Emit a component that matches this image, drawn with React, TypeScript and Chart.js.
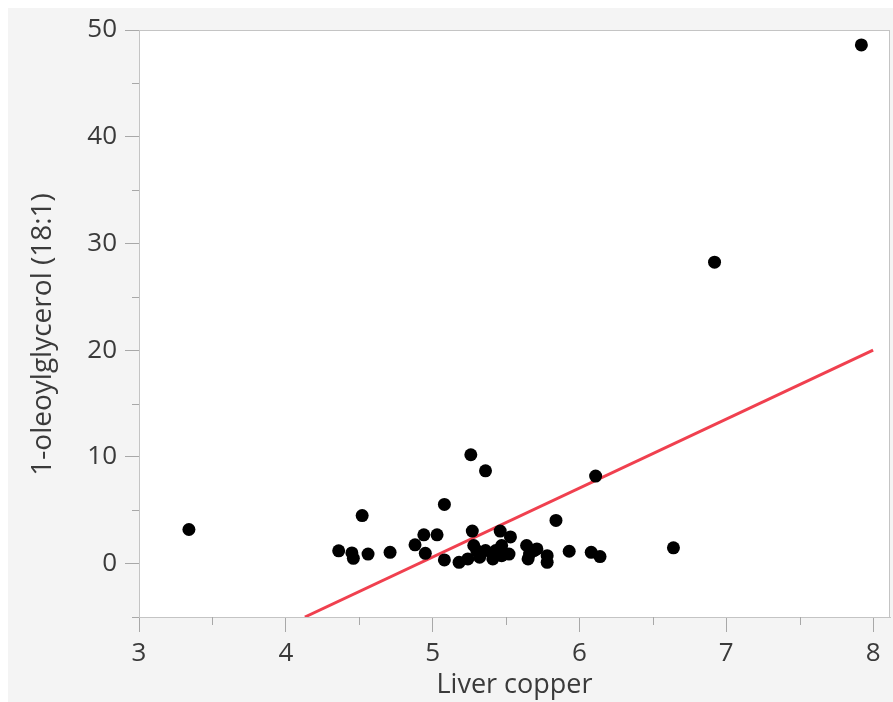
import React, { useEffect, useRef } from "react";
import { Chart, registerables } from "chart.js";

Chart.register(...registerables);

const copperX: number[] = [
  3.34, 4.36, 4.45, 4.46, 4.52, 4.56, 4.71, 4.88, 4.94, 4.95, 5.03, 5.08, 5.08, 5.18, 5.24,
  5.26, 5.27, 5.28, 5.3, 5.32, 5.36, 5.36, 5.41, 5.43, 5.46, 5.47, 5.47, 5.53, 5.52, 5.64,
  5.65, 5.69, 5.71, 5.66, 5.78, 5.78, 5.84, 5.93, 6.08, 6.11, 6.14, 6.64, 6.92, 7.92,
];
const glycerolY: number[] = [
  3.2, 1.2, 1.0, 0.5, 4.5, 0.9, 1.06, 1.76, 2.7, 0.97, 2.7, 5.55, 0.35, 0.12, 0.44,
  10.2, 3.05, 1.7, 1.22, 0.6, 8.7, 1.22, 0.44, 1.22, 3.05, 1.7, 0.75, 2.5, 0.9, 1.7,
  0.44, 1.22, 1.38, 0.9, 0.75, 0.12, 4.05, 1.16, 1.06, 8.2, 0.66, 1.48, 28.25, 48.6,
];
const fitX: number[] = [4.13, 8.0];
const fitY: number[] = [-5, 20];
const xMajorTicks: number[] = [3, 4, 5, 6, 7, 8];
const yMajorTicks: number[] = [0, 10, 20, 30, 40, 50];
const xMinorTicks: number[] = [3.5, 4.5, 5.5, 6.5, 7.5];
const yMinorTicks: number[] = [-5, 5, 15, 25, 35, 45];

const FONT = "'Open Sans', 'Noto Sans', sans-serif";
const TICK_COLOR = "#a8a8a8";
const TEXT_COLOR = "#3a3a3a";

export default function App() {
  const ref = useRef<HTMLCanvasElement | null>(null);

  useEffect(() => {
    if (!ref.current) return;
    const framePlugin = {
      id: "frame",
      beforeDraw(chart: any) {
        const { ctx, chartArea } = chart;
        ctx.save();
        ctx.fillStyle = "#ffffff";
        ctx.fillRect(chartArea.left, chartArea.top, chartArea.right - chartArea.left, chartArea.bottom - chartArea.top);
        ctx.restore();
      },
      afterDraw(chart: any) {
        const { ctx, chartArea } = chart;
        const xs = chart.scales.x;
        const ys = chart.scales.y;
        ctx.save();
        ctx.strokeStyle = "#c4c4c4";
        ctx.lineWidth = 1;
        ctx.strokeRect(chartArea.left + 0.5, chartArea.top + 0.5, chartArea.right - chartArea.left - 1, chartArea.bottom - chartArea.top);
        ctx.strokeStyle = TICK_COLOR;
        ctx.beginPath();
        xMinorTicks.forEach((v) => {
          const px = Math.round(xs.getPixelForValue(v)) + 0.5;
          ctx.moveTo(px, chartArea.bottom);
          ctx.lineTo(px, chartArea.bottom + 8);
        });
        yMinorTicks.forEach((v) => {
          const py = Math.round(ys.getPixelForValue(v)) + 0.5;
          ctx.moveTo(chartArea.left, py);
          ctx.lineTo(chartArea.left - 7, py);
        });
        ctx.stroke();
        ctx.restore();
      },
    };

    const chart = new Chart(ref.current, {
      type: "scatter",
      data: {
        datasets: [
          {
            type: "line",
            label: "Fit",
            data: fitX.map((x, i) => ({ x, y: fitY[i] })),
            borderColor: "#f0404f",
            borderWidth: 3,
            pointRadius: 0,
            fill: false,
            order: 2,
          } as any,
          {
            label: "Data",
            data: copperX.map((x, i) => ({ x, y: glycerolY[i] })),
            backgroundColor: "#000000",
            borderColor: "#000000",
            pointRadius: 6.5,
            borderWidth: 0,
            order: 1,
          },
        ],
      },
      options: {
        responsive: false,
        animation: false,
        layout: { autoPadding: false, padding: { top: 22, right: 3, left: 0, bottom: 0 } },
        plugins: { legend: { display: false }, tooltip: { enabled: false } },
        scales: {
          x: {
            type: "linear",
            min: 3,
            max: 8.115,
            afterFit: (s: any) => {
              s.height = 85;
              s.paddingLeft = 0;
              s.paddingRight = 0;
            },
            afterBuildTicks: (s: any) => {
              s.ticks = xMajorTicks.map((v) => ({ value: v }));
            },
            border: { display: true, color: "#c4c4c4" },
            grid: { drawOnChartArea: false, drawTicks: true, tickLength: 15, color: TICK_COLOR },
            ticks: {
              padding: 6,
              color: TEXT_COLOR,
              font: { family: FONT, size: 26 },
              maxRotation: 0,
              autoSkip: false,
            },
            title: {
              display: true,
              text: "Liver copper",
              color: TEXT_COLOR,
              font: { family: FONT, size: 27 },
              padding: { top: 0, bottom: 0 },
            },
          },
          y: {
            type: "linear",
            min: -5,
            max: 50,
            afterFit: (s: any) => {
              s.width = 131;
              s.paddingTop = 0;
              s.paddingBottom = 0;
            },
            afterBuildTicks: (s: any) => {
              s.ticks = yMajorTicks.map((v) => ({ value: v }));
            },
            border: { display: true, color: "#c4c4c4" },
            grid: { drawOnChartArea: false, drawTicks: true, tickLength: 14, color: TICK_COLOR },
            ticks: {
              padding: 8,
              color: TEXT_COLOR,
              font: { family: FONT, size: 26 },
              autoSkip: false,
            },
            title: {
              display: true,
              text: "1-oleoylglycerol (18:1)   ",
              color: TEXT_COLOR,
              font: { family: FONT, size: 28 },
              padding: { top: 18, bottom: 0 },
            },
          },
        },
      },
      plugins: [framePlugin],
    });
    return () => chart.destroy();
  }, []);

  return (
    <div style={{ position: "fixed", left: 8, top: 8, width: 885, height: 694, background: "#f4f4f4" }}>
      <canvas ref={ref} width={885} height={694} style={{ display: "block", width: 885, height: 694 }} />
    </div>
  );
}
